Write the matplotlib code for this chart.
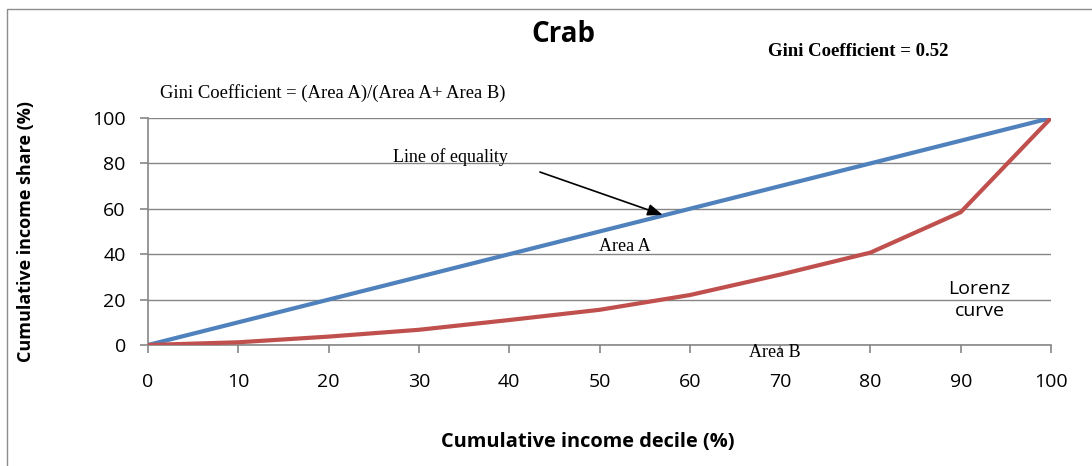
import matplotlib
matplotlib.use("Agg")
import matplotlib.pyplot as plt
from matplotlib.patches import Rectangle

# Cumulative income decile (%) and cumulative income share (%)
deciles = [0, 10, 20, 30, 40, 50, 60, 70, 80, 90, 100]
equality = [0, 10, 20, 30, 40, 50, 60, 70, 80, 90, 100]
lorenz = [0, 1.2, 3.7, 6.7, 11, 15.5, 22, 31, 40.7, 58.5, 100]
x_ticks = [0, 10, 20, 30, 40, 50, 60, 70, 80, 90, 100]
y_ticks = [0, 20, 40, 60, 80, 100]

W, H = 1092, 466
fig = plt.figure(figsize=(W / 100, H / 100), dpi=100)
fig.patch.set_facecolor("white")

# outer chart frame
fig.patches.append(Rectangle((7 / W, -0.2), 1.2, 1.2 - 9 / H,
                             transform=fig.transFigure, fill=False,
                             edgecolor="#8c8c8c", linewidth=1.0))

ax = fig.add_axes([148 / W, 1 - 345 / H, (1051 - 148) / W, (345 - 118) / H])

sans = "Open Sans"
serif = "Liberation Serif"
grey = "#868686"

ax.plot(deciles, equality, color="#4F81BD", linewidth=3.0, solid_capstyle="butt", zorder=3)
ax.plot(deciles, lorenz, color="#C0504D", linewidth=3.0, solid_capstyle="butt", zorder=3)

ax.set_xlim(0, 100)
ax.set_ylim(0, 100)
ax.set_xticks(x_ticks)
ax.set_yticks(y_ticks)
ax.set_xticklabels([str(v) for v in x_ticks], fontfamily=sans, fontsize=14)
ax.set_yticklabels([str(v) for v in y_ticks], fontfamily=sans, fontsize=14)
ax.tick_params(axis="both", color=grey, length=6, width=1.2, direction="out")
ax.tick_params(axis="x", pad=14)
ax.tick_params(axis="y", pad=10)

ax.grid(axis="y", color=grey, linewidth=1.0, zorder=0)
ax.set_axisbelow(True)
for side in ("top", "right"):
    ax.spines[side].set_visible(False)
for side in ("left", "bottom"):
    ax.spines[side].set_color(grey)
    ax.spines[side].set_linewidth(1.2)

ax.set_xlabel("Cumulative income decile (%)", fontfamily=sans, fontsize=14.4,
              fontweight="bold", labelpad=30, x=0.487)
ax.set_ylabel("Cumulative income share (%)", fontfamily=sans, fontsize=13,
              fontweight="bold", labelpad=41)

# annotations inside the plot
ax.annotate("", xy=(57.0, 57.3), xytext=(43.4, 76.2),
            arrowprops=dict(arrowstyle="-|>,head_length=0.9,head_width=0.35",
                            color="black", linewidth=1.2, shrinkA=0, shrinkB=0))
ax.text(27.1, 82.8, "Line of equality", fontfamily=serif, fontsize=13,
        ha="left", va="center")
ax.text(52.8, 43.2, "Area A", fontfamily=serif, fontsize=13, ha="center", va="center")
ax.text(69.4, -3.3, "Area B", fontfamily=serif, fontsize=13, ha="center", va="center",
        clip_on=False)
ax.text(92.1, 20.0, "Lorenz\ncurve", fontfamily=sans, fontsize=14, ha="center",
        va="center", linespacing=1.3)

# figure-level texts
fig.text(563 / W, 1 - 35 / H, "Crab", fontfamily=sans, fontsize=20,
         fontweight="bold", ha="center", va="center")
fig.text(858 / W, 1 - 52 / H, "Gini Coefficient = 0.52", fontfamily=serif,
         fontsize=13.5, fontweight="bold", ha="center", va="center")
fig.text(160 / W, 1 - 93 / H, "Gini Coefficient = (Area A)/(Area A+ Area B)",
         fontfamily=serif, fontsize=13.4, ha="left", va="center")

fig.savefig("out.png", dpi=100)
